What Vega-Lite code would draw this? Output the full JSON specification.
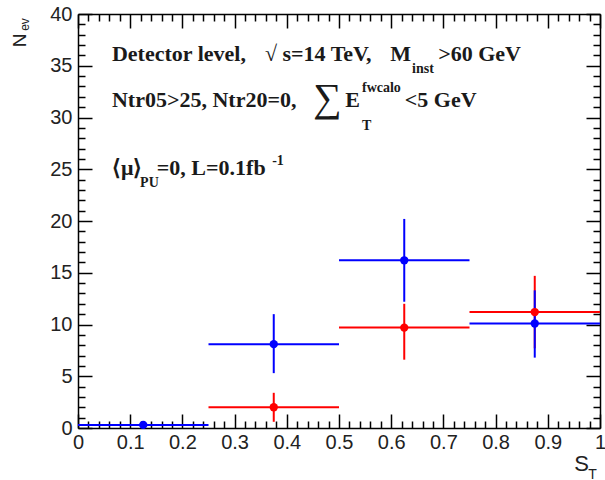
{
  "$schema": "https://vega.github.io/schema/vega-lite/v6.json",
  "width": 522,
  "height": 414,
  "autosize": "none",
  "padding": {"left": 78, "top": 14, "right": 5, "bottom": 52},
  "background": "white",
  "config": {
    "view": {"stroke": null},
    "axis": {
      "grid": false,
      "domainColor": "black",
      "tickColor": "black",
      "domainWidth": 1.5,
      "tickWidth": 1.5,
      "labelFont": "Liberation Sans",
      "labelFontSize": 20,
      "labelColor": "#222",
      "titleFont": "Liberation Sans",
      "titleFontWeight": "normal",
      "titleColor": "#222"
    }
  },
  "datasets": {
    "bins": [
      {"series": "red", "lo": 0.25, "hi": 0.5, "xc": 0.375, "val": 2.0, "ylo": 0.6, "yhi": 3.4},
      {"series": "red", "lo": 0.5, "hi": 0.75, "xc": 0.625, "val": 9.7, "ylo": 6.6, "yhi": 12.0},
      {"series": "red", "lo": 0.75, "hi": 1.0, "xc": 0.875, "val": 11.2, "ylo": 7.7, "yhi": 14.7},
      {"series": "blue", "lo": 0.0, "hi": 0.25, "xc": 0.125, "val": 0.3, "ylo": 0.0, "yhi": 0.6},
      {"series": "blue", "lo": 0.25, "hi": 0.5, "xc": 0.375, "val": 8.1, "ylo": 5.3, "yhi": 11.0},
      {"series": "blue", "lo": 0.5, "hi": 0.75, "xc": 0.625, "val": 16.2, "ylo": 12.2, "yhi": 20.2},
      {"series": "blue", "lo": 0.75, "hi": 1.0, "xc": 0.875, "val": 10.1, "ylo": 6.8, "yhi": 13.3}
    ],
    "mainText": [
      {"t": "Detector level,", "x": 0.065, "y": 35.5},
      {"t": "√ s=14 TeV,", "x": 0.358, "y": 35.5},
      {"t": "M", "x": 0.598, "y": 35.5},
      {"t": ">60 GeV", "x": 0.69, "y": 35.5},
      {"t": "Ntr05>25, Ntr20=0,", "x": 0.065, "y": 31.0},
      {"t": "E", "x": 0.512, "y": 31.0},
      {"t": "<5 GeV", "x": 0.626, "y": 31.0},
      {"t": "⟨μ⟩", "x": 0.065, "y": 24.4},
      {"t": "=0, L=0.1fb", "x": 0.151, "y": 24.4}
    ],
    "smallText": [
      {"t": "inst", "x": 0.64, "y": 34.3},
      {"t": "fwcalo", "x": 0.544, "y": 32.5},
      {"t": "T", "x": 0.544, "y": 28.8},
      {"t": "PU", "x": 0.119, "y": 23.3},
      {"t": "-1", "x": 0.372, "y": 25.4}
    ],
    "bigText": [
      {"t": "∑", "x": 0.45, "y": 30.6}
    ]
  },
  "resolve": {"axis": {"x": "independent", "y": "independent"}},
  "layer": [
    {
      "data": {"name": "bins"},
      "mark": {"type": "rule", "strokeWidth": 2},
      "encoding": {
        "x": {"field": "lo", "type": "quantitative", "scale": {"domain": [0, 1], "nice": false},
          "axis": {"orient": "bottom", "values": [0, 0.1, 0.2, 0.3, 0.4, 0.5, 0.6, 0.7, 0.8, 0.9, 1], "format": "~g", "tickSize": -14, "labelPadding": 18, "labelFlush": false, "labelOverlap": false, "title": "S", "titleFontSize": 22, "titleX": 503, "titleY": 42, "titleAlign": "center", "titleBaseline": "alphabetic"}},
        "x2": {"field": "hi"},
        "y": {"field": "val", "type": "quantitative", "scale": {"domain": [0, 40], "nice": false},
          "axis": {"orient": "left", "values": [0, 5, 10, 15, 20, 25, 30, 35, 40], "tickSize": -14, "labelPadding": 20, "labelFlush": false, "labelOverlap": false, "title": "N", "titleFontSize": 19, "titleAngle": -90, "titleX": -53, "titleY": 26, "titleAlign": "center", "titleBaseline": "alphabetic"}},
        "color": {"field": "series", "type": "nominal", "scale": {"domain": ["red", "blue"], "range": ["#ff0000", "#0000ff"]}, "legend": null}
      }
    },
    {
      "data": {"name": "bins"},
      "mark": {"type": "rule", "strokeWidth": 2},
      "encoding": {
        "x": {"field": "xc", "type": "quantitative", "scale": {"domain": [0, 1], "nice": false},
          "axis": {"orient": "bottom", "values": [0.02,0.04,0.06,0.08,0.12,0.14,0.16,0.18,0.22,0.24,0.26,0.28,0.32,0.34,0.36,0.38,0.42,0.44,0.46,0.48,0.52,0.54,0.56,0.58,0.62,0.64,0.66,0.68,0.72,0.74,0.76,0.78,0.82,0.84,0.86,0.88,0.92,0.94,0.96,0.98], "tickSize": -7, "labels": false, "domain": false, "title": "T", "titleFontSize": 14, "titleX": 514, "titleY": 50, "titleAlign": "center", "titleBaseline": "alphabetic"}},
        "y": {"field": "ylo", "type": "quantitative", "scale": {"domain": [0, 40], "nice": false},
          "axis": {"orient": "left", "values": [1,2,3,4,6,7,8,9,11,12,13,14,16,17,18,19,21,22,23,24,26,27,28,29,31,32,33,34,36,37,38,39], "tickSize": -7, "labels": false, "domain": false, "title": "ev", "titleFontSize": 12, "titleAngle": -90, "titleX": -50, "titleY": 10, "titleAlign": "center", "titleBaseline": "alphabetic"}},
        "y2": {"field": "yhi"},
        "color": {"field": "series", "type": "nominal", "scale": {"domain": ["red", "blue"], "range": ["#ff0000", "#0000ff"]}, "legend": null}
      }
    },
    {
      "data": {"name": "bins"},
      "mark": {"type": "point", "shape": "circle", "filled": true, "opacity": 1, "size": 70},
      "encoding": {
        "x": {"field": "xc", "type": "quantitative", "scale": {"domain": [0, 1], "nice": false},
          "axis": {"orient": "top", "values": [0, 0.1, 0.2, 0.3, 0.4, 0.5, 0.6, 0.7, 0.8, 0.9, 1], "tickSize": -14, "labels": false, "title": null}},
        "y": {"field": "val", "type": "quantitative", "scale": {"domain": [0, 40], "nice": false},
          "axis": {"orient": "right", "values": [0, 5, 10, 15, 20, 25, 30, 35, 40], "tickSize": -14, "labels": false, "title": null}},
        "color": {"field": "series", "type": "nominal", "scale": {"domain": ["red", "blue"], "range": ["#ff0000", "#0000ff"]}, "legend": null}
      }
    },
    {
      "data": {"name": "mainText"},
      "mark": {"type": "text", "align": "left", "baseline": "alphabetic", "font": "Liberation Serif", "fontWeight": "bold", "fontSize": 22, "color": "#1a1a1a"},
      "encoding": {
        "x": {"field": "x", "type": "quantitative", "scale": {"domain": [0, 1], "nice": false},
          "axis": {"orient": "top", "values": [0.02,0.04,0.06,0.08,0.12,0.14,0.16,0.18,0.22,0.24,0.26,0.28,0.32,0.34,0.36,0.38,0.42,0.44,0.46,0.48,0.52,0.54,0.56,0.58,0.62,0.64,0.66,0.68,0.72,0.74,0.76,0.78,0.82,0.84,0.86,0.88,0.92,0.94,0.96,0.98], "tickSize": -7, "labels": false, "domain": false, "title": null}},
        "y": {"field": "y", "type": "quantitative", "scale": {"domain": [0, 40], "nice": false},
          "axis": {"orient": "right", "values": [1,2,3,4,6,7,8,9,11,12,13,14,16,17,18,19,21,22,23,24,26,27,28,29,31,32,33,34,36,37,38,39], "tickSize": -7, "labels": false, "domain": false, "title": null}},
        "text": {"field": "t"}
      }
    },
    {
      "data": {"name": "smallText"},
      "mark": {"type": "text", "align": "left", "baseline": "alphabetic", "font": "Liberation Serif", "fontWeight": "bold", "fontSize": 14, "color": "#1a1a1a"},
      "encoding": {
        "x": {"field": "x", "type": "quantitative", "scale": {"domain": [0, 1], "nice": false}, "axis": null},
        "y": {"field": "y", "type": "quantitative", "scale": {"domain": [0, 40], "nice": false}, "axis": null},
        "text": {"field": "t"}
      }
    },
    {
      "data": {"name": "bigText"},
      "mark": {"type": "text", "align": "left", "baseline": "alphabetic", "font": "Liberation Serif", "fontWeight": "normal", "fontSize": 40, "color": "#1a1a1a"},
      "encoding": {
        "x": {"field": "x", "type": "quantitative", "scale": {"domain": [0, 1], "nice": false}, "axis": null},
        "y": {"field": "y", "type": "quantitative", "scale": {"domain": [0, 40], "nice": false}, "axis": null},
        "text": {"field": "t"}
      }
    }
  ]
}
